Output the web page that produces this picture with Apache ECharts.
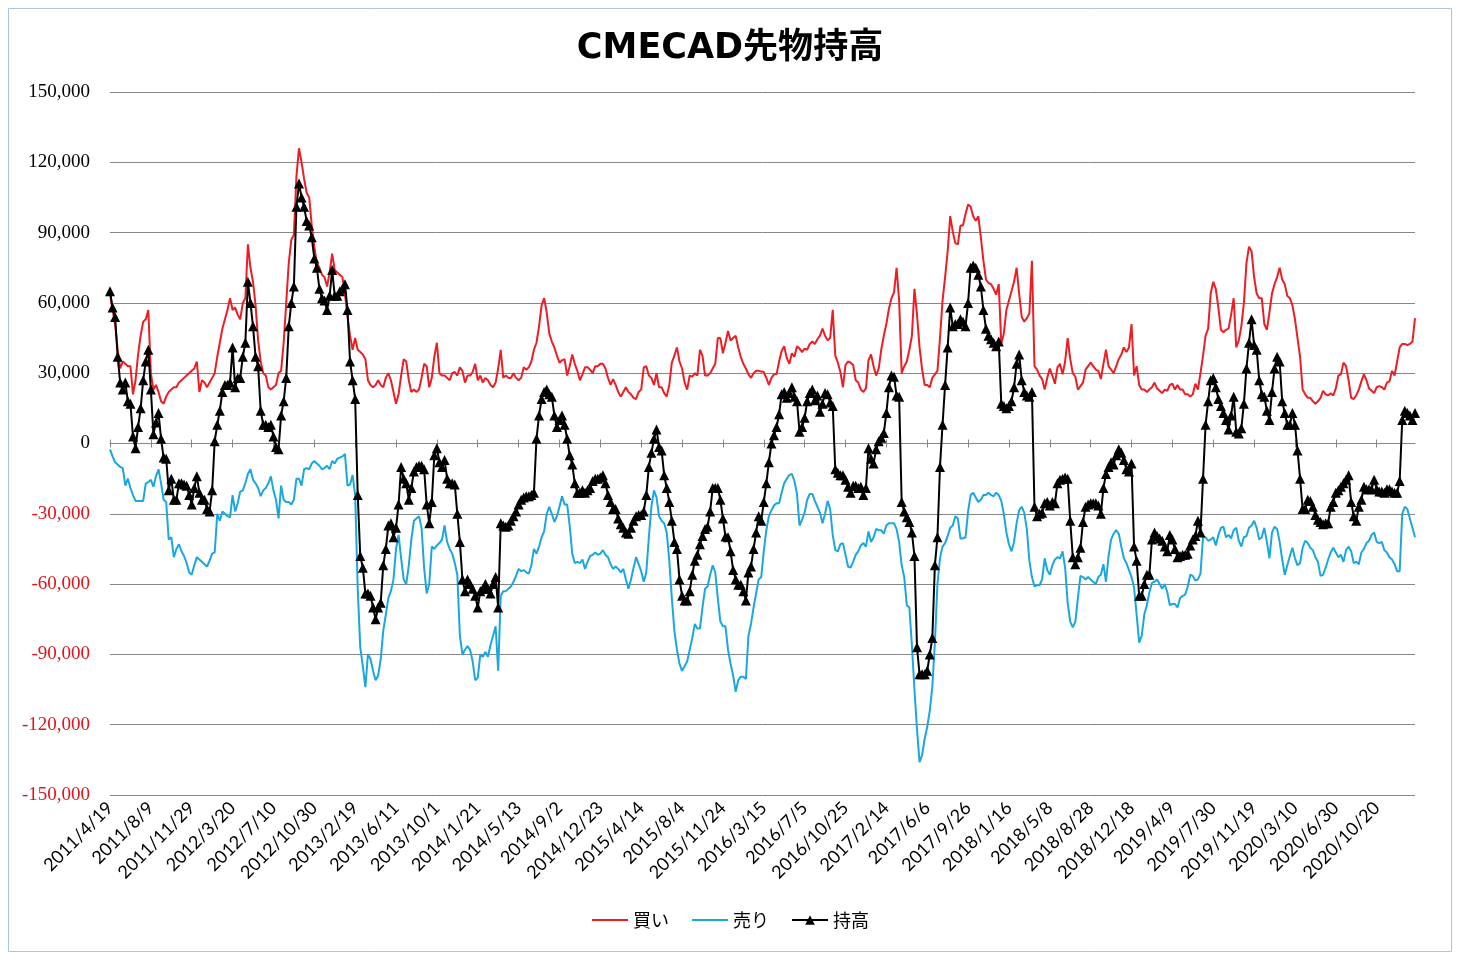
<!DOCTYPE html>
<html><head><meta charset="utf-8">
<script src="https://cdn.jsdelivr.net/npm/echarts@6/dist/echarts.min.js"></script>
<style>html,body{margin:0;padding:0;background:#fff}#c{width:1460px;height:960px}</style>
</head><body><div id="c"></div>
<script>
// 買い (long)
const buy = [
64000,57000,51000,40000,32000,35000,34000,33000,33000,21000,
27000,38000,46000,52000,53000,57000,30000,23000,25000,22000,
18000,17000,20000,22000,23000,24000,24000,26000,27000,28000,
29000,30000,31000,32000,35000,22000,27000,26000,24000,26000,
28000,30000,37000,43000,49000,53000,57000,62000,57000,58000,
55000,53000,60000,62000,85000,75000,69000,59000,44000,35000,
30000,
29000,24000,23000,24000,25000,30000,31000,43000,60000,77000,
87000,89000,114000,126000,120000,113000,107000,105000,93000,84000,
77000,75000,72000,71000,67000,73000,81000,74000,73000,72000,
71000,64000,54000,46000,40000,45000,40000,39000,38000,36000,
27000,25000,24000,25000,27000,25000,24000,28000,30000,27000,
22000,17000,21000,29000,36000,35000,27000,22000,23000,22000,
23000,28000,34000,33000,24000,
28000,37000,43000,30000,29000,29000,28000,27000,30000,30500,
29000,32500,31000,26000,29000,29000,30500,34000,27000,29000,
26000,28000,27000,25000,24000,26000,32000,40000,28000,29000,
28000,28000,30000,28000,27000,28000,32500,31500,32500,35000,
40000,43000,50000,59000,62000,56000,47000,43500,41000,37500,
34500,35500,36000,29000,33000,38000,34000,31000,27000,29500,
32500,32500,31500,30000,
33000,33000,34000,34000,32000,28000,25000,27500,25000,22000,
20000,22000,24000,22000,21000,19500,19000,22000,23000,32500,
33000,29000,28000,25000,30000,24000,24000,21500,20000,25000,
34500,37500,41000,35000,32000,26000,23000,29000,28500,30000,
29000,40000,37500,29000,29000,30000,32000,34000,45000,45000,
38500,43000,48000,44000,45000,46000,41000,37000,34000,32000,
29500,28000,30000,31000,31000,
30700,30500,28000,25000,28000,29500,29500,35000,39500,41500,
36500,34000,38500,37000,41500,40500,39000,40500,40000,42500,
43500,42500,44500,46000,49000,46000,44000,45000,57000,37500,
34500,30500,24000,33500,35000,34500,33500,27000,26000,23000,
22000,23500,35500,38000,33000,29000,32000,40000,46000,51000,
57500,62000,64500,75000,61000,30000,33000,35000,40000,46000,
66000,55000,41000,31500,25000,
25000,24000,28000,29500,31000,45000,61000,71000,82000,97000,
90500,85500,85000,93000,93000,98000,102000,101000,97000,95000,
97000,88000,78000,70000,68500,68000,66000,63500,68000,42500,
47000,57000,61000,65000,69000,75000,64000,54000,52000,53500,
55500,78000,33000,31500,29000,27500,23000,28000,32000,29000,
25500,32500,34000,29500,35000,45000,36000,30000,28500,23000,
24500,26000,31500,33000,
34500,33000,31500,31000,27500,34000,40000,33000,31500,30000,
33000,36000,38000,41000,39000,41000,51000,29000,33000,25000,
23000,23000,22000,23000,24000,26000,23500,22500,21500,23000,
22500,25000,25500,23000,25000,23000,23000,21000,21000,20000,
21000,25500,23000,30000,37500,46000,49000,64000,69000,66000,
58000,48500,47500,48500,49000,55000,62000,41000,44000,50000,
60000,77000,84000,82000,71000,
64000,62000,62000,51000,48500,56000,64000,68000,71000,75000,
70000,68000,63000,62000,59000,53000,45000,37000,23000,21000,
19500,19500,18000,17000,18000,19500,22500,21000,20500,21500,
20500,23500,29000,29500,34500,33000,27000,19500,19000,20500,
23000,26500,29500,27000,23500,22500,21500,24000,24500,24000,
23000,26000,26500,31000,29000,35000,41000,42500,42500,42000,
42500,43500,53500
];

// 売り (short)
const sell = [
-2500,-5500,-8000,-9000,-10000,-10500,-18000,-15000,-19000,-22000,
-24500,-24500,-24500,-24500,-17000,-16500,-15500,-18500,-14000,-11000,
-17000,-24000,-25000,-41000,-40000,-48500,-45000,-43000,-46000,-48000,
-51000,-55000,-56000,-52000,-48500,-49500,-50500,-51500,-52500,-50000,
-47000,-46500,-30000,-33000,-29000,-30000,-31000,-31500,-22000,-29000,
-25500,-20500,-20000,-17000,-13000,-11000,-15500,-17000,-19000,-22500,
-20000,
-19000,-17000,-14000,-20000,-24000,-32000,-18000,-24000,-25000,-25000,
-26000,-24000,-15000,-15000,-18000,-11000,-10500,-11000,-8500,-7500,
-8500,-9500,-11000,-10500,-9500,-11000,-7500,-8500,-6500,-6000,
-5500,-4500,-18000,-17500,-13500,-22000,-62000,-87000,-95000,-104000,
-90000,-92000,-97000,-101000,-99000,-92000,-80000,-73000,-66000,-63000,
-58000,-45000,-39000,-49000,-58000,-60000,-52000,-41000,-33000,-32000,
-31000,-36000,-53000,-64000,-60000,
-44000,-45000,-43500,-42500,-41000,-35000,-42000,-45000,-47000,-51000,
-56000,-82000,-90000,-88000,-86500,-88000,-93000,-101000,-100000,-90000,
-91000,-89000,-91000,-86000,-82000,-78000,-97000,-65000,-63000,-63000,
-62000,-61000,-59000,-56500,-53500,-54500,-54000,-55000,-55500,-52000,
-45000,-47000,-44000,-40000,-37500,-30000,-27000,-30000,-33500,-31000,
-27000,-22500,-26000,-26000,-35000,-47000,-51000,-50500,-51000,-49500,
-53500,-50500,-48000,-47500,
-46500,-47500,-47000,-45500,-47500,-48500,-51500,-53500,-52500,-53500,
-55000,-53500,-58000,-62000,-58000,-53000,-48500,-51500,-54500,-59000,
-55000,-40000,-27000,-20000,-23000,-31000,-33000,-34000,-38000,-50000,
-66000,-80000,-88000,-94000,-97000,-95000,-93000,-88000,-83000,-77000,
-79000,-79000,-70000,-62000,-61000,-56000,-52000,-55000,-66000,-76000,
-78000,-78000,-88000,-94000,-99000,-106000,-101000,-99500,-99500,-100500,
-82000,-77000,-70000,-64000,-58000,
-57000,-46000,-37000,-31000,-28500,-26500,-25500,-25500,-21000,-17000,
-15000,-13500,-13000,-16000,-21500,-35000,-32500,-29500,-24000,-21500,
-21500,-24500,-27000,-29500,-34000,-30000,-24500,-28000,-39000,-45500,
-46000,-43000,-42500,-47500,-52500,-53000,-50500,-47500,-46000,-43500,
-42500,-44000,-37500,-42000,-40000,-36500,-37000,-37000,-38500,-35000,
-34000,-34000,-34000,-36500,-42000,-52000,-57000,-69000,-70000,-86000,
-105000,-122000,-136000,-133000,-126000,
-121000,-114000,-104000,-85000,-60000,-49000,-44000,-42500,-39500,-36000,
-35000,-31000,-32000,-40500,-40500,-40000,-29000,-22000,-21000,-23000,
-25000,-24000,-22000,-22000,-21000,-22000,-22500,-21000,-22000,-24500,
-30000,-38000,-43000,-46000,-42000,-34000,-28500,-27000,-29500,-36500,
-50000,-57000,-61000,-60500,-60500,-58000,-49000,-54000,-56000,-52000,
-49500,-48500,-49000,-46000,-53000,-68000,-76000,-78500,-76000,-66000,
-56500,-57000,-58000,-57000,
-58000,-59000,-60000,-57000,-56000,-51500,-59000,-48000,-41000,-38500,
-37000,-38500,-44000,-49000,-51000,-54000,-57000,-61500,-73000,-85000,
-82000,-73000,-69000,-63500,-59500,-59000,-58000,-60000,-62000,-60000,
-63500,-69000,-68500,-68500,-70000,-66000,-65000,-64500,-61000,-56000,
-56500,-58500,-58000,-55500,-40000,-40000,-41500,-41000,-40000,-43500,
-39000,-36000,-35500,-40000,-39000,-40500,-37000,-36000,-41500,-44000,
-40000,-39500,-36000,-35000,-33000,
-36000,-41000,-40000,-36000,-42000,-49000,-38000,-35500,-36500,-42000,
-49500,-56000,-52000,-48000,-44500,-49000,-52000,-51000,-44500,-41500,
-42500,-44500,-45500,-48500,-50500,-56500,-56000,-53000,-49500,-46500,
-44500,-46500,-48500,-47500,-50500,-45500,-44000,-46000,-51000,-50500,
-51500,-46500,-45000,-42500,-41500,-39000,-38000,-42000,-42500,-42000,
-45500,-46500,-48500,-49500,-51500,-54500,-54500,-30000,-27000,-28000,
-32000,-36000,-40000
];

// 持高 (net)
const net = [
65000,58000,54000,37000,26000,23000,26000,18000,17000,3000,
-2000,7000,15000,27000,35000,40000,23000,4000,9000,13000,
2000,-6000,-6500,-20000,-15000,-24000,-24000,-17000,-17000,-17500,
-18000,-22000,-26000,-19000,-14000,-21000,-24000,-24000,-28000,-29000,
-20000,1000,8000,14000,22000,25000,25000,26000,41000,24000,
28000,28000,37000,43000,69000,60000,50000,37000,33000,14000,
8000,
8000,7000,8000,3000,-1500,-2500,12000,18000,28000,50000,
60000,67000,101000,111000,105000,101000,95000,93000,88000,79000,
75000,66000,62000,61000,57000,63000,74000,63000,63000,65000,
66000,68000,57000,35000,27000,19000,-22000,-48000,-53000,-64000,
-64000,-65000,-70000,-75000,-70000,-68000,-52000,-45000,-35000,-34000,
-40000,-36000,-26000,-10000,-15000,-17000,-24000,-19000,-12000,-10000,
-9500,-9500,-11000,-26000,-34000,
-25000,-5000,-2000,-8000,-10000,-7000,-15000,-17000,-17000,-17500,
-30000,-42000,-58000,-63000,-58000,-60000,-62000,-65000,-70000,-63000,
-62000,-60000,-62000,-64000,-60000,-57000,-70000,-34000,-35000,-35500,
-35000,-33000,-31000,-29000,-26000,-24000,-23000,-22500,-22500,-22000,
-21000,2000,12000,19000,22000,23000,21000,20000,12000,7000,
10000,12000,8000,2000,-5000,-9000,-17000,-21000,-21000,-20000,
-21000,-20000,-19000,-16000,
-15000,-15000,-14500,-13500,-17000,-22000,-25000,-28000,-28000,-32000,
-34500,-36000,-38000,-38500,-36000,-33000,-31000,-30500,-30500,-29000,
-22000,-10000,-4000,2000,6000,-1500,-3000,-13500,-19000,-25000,
-33000,-42000,-45000,-58000,-65000,-67000,-67000,-63000,-56000,-50000,
-47500,-43000,-39500,-36500,-35500,-29000,-19000,-19000,-19000,-24000,
-32000,-39700,-40000,-46000,-54000,-58000,-60300,-60300,-63000,-67000,
-55000,-52500,-45000,-38000,-31000,
-33000,-25000,-17000,-8000,0,3500,7000,12500,21000,22000,
19500,21500,24000,20000,18000,5000,7000,11000,18000,21500,
23000,18500,20500,13500,17000,21500,21000,17500,16000,-11000,
-12500,-13500,-13500,-15500,-18500,-21000,-18000,-18000,-19000,-18500,
-22000,-19000,-2000,-6500,-8500,-2500,1000,2500,4500,13000,
24000,29000,28500,20500,20000,-25000,-29000,-31500,-33500,-38000,
-48000,-87000,-98500,-98500,-98500,
-97000,-90000,-83000,-52000,-40000,-10000,8000,25000,41000,58000,
50000,51000,51000,53000,52000,50000,60000,75000,76000,75000,
72000,67000,57000,49000,46000,44500,43000,41500,43500,17000,
16000,15000,16000,18000,24000,34000,38000,27000,22000,20500,
20000,22000,-27000,-31000,-30000,-29500,-25500,-25000,-26500,-25000,
-25500,-17000,-15500,-15000,-14500,-15000,-33000,-48500,-51500,-48500,
-44500,-33500,-27000,-26000,
-25500,-25500,-25500,-26500,-30000,-19000,-13000,-10000,-8000,-9000,
-5000,-2500,-4000,-7000,-11000,-12000,-8500,-44000,-50000,-65000,
-65000,-60000,-56000,-56000,-41000,-38000,-39500,-40500,-41500,-44000,
-46000,-39000,-41000,-45000,-48500,-48000,-47500,-47500,-47000,-43500,
-41000,-39500,-33000,-38000,-15000,8000,18000,27000,28000,24000,
19000,16000,13000,10000,6000,12000,20000,5000,4300,6500,
17000,32000,43000,53000,42000,
40000,27000,21000,20000,14000,10000,22000,32000,37000,35000,
18000,13000,8000,8000,13000,8000,-3000,-15000,-28000,-28000,
-24000,-24500,-27000,-30500,-32500,-33500,-34500,-34000,-34000,-27000,
-25000,-21000,-20000,-18500,-17000,-15500,-13500,-25000,-31000,-33000,
-27000,-24000,-18500,-19500,-19500,-19500,-15500,-19500,-20500,-20500,
-21000,-19500,-19500,-20500,-21000,-21000,-16000,10000,14000,13000,
12000,10000,13000
];

// x-axis tick labels (every 16 weeks)
const tickLabels = ['2011/4/19','2011/8/9','2011/11/29','2012/3/20','2012/7/10','2012/10/30','2013/2/19','2013/6/11','2013/10/1','2014/1/21','2014/5/13','2014/9/2','2014/12/23','2015/4/14','2015/8/4','2015/11/24','2016/3/15','2016/7/5','2016/10/25','2017/2/14','2017/6/6','2017/9/26','2018/1/16','2018/5/8','2018/8/28','2018/12/18','2019/4/9','2019/7/30','2019/11/19','2020/3/10','2020/6/30','2020/10/20'];

// weekly categories starting 2011/4/19
const categories = [];
for (let k = 0; k < net.length; k++) {
  const d = new Date(Date.UTC(2011, 3, 19 + 7 * k));
  categories.push(d.getUTCFullYear() + '/' + (d.getUTCMonth() + 1) + '/' + d.getUTCDate());
}
const tickSet = new Set(tickLabels);
const showTick = (idx, val) => tickSet.has(val);

const RED = '#ee1d23', BLUE = '#1aa7e0';
const chart = echarts.init(document.getElementById('c'));
const axisGray = '#868686';
chart.setOption({
  animation: false,
  backgroundColor: '#fff',
  graphic: [{
    type: 'rect', shape: { x: 8.5, y: 8.5, width: 1443, height: 943 },
    style: { fill: 'none', stroke: '#a9c6de', lineWidth: 1 }, silent: true
  }],
  title: {
    text: 'CMECAD先物持高', left: 'center', top: 26,
    textStyle: { fontSize: 35, fontWeight: 'bold', color: '#000', fontFamily: '"DejaVu Sans","Noto Sans CJK JP"' }
  },
  legend: {
    data: [
      { name: '買い', itemStyle: { opacity: 0 }, lineStyle: { color: RED, width: 2 } },
      { name: '売り', itemStyle: { opacity: 0 }, lineStyle: { color: BLUE, width: 2 } },
      { name: '持高' }
    ],
    left: 'center', top: 906,
    itemWidth: 36, itemHeight: 12, itemGap: 22,
    textStyle: { fontSize: 18, color: '#000', fontFamily: '"Noto Sans CJK JP"' }
  },
  grid: { left: 110, right: 45, top: 92, bottom: 165 },
  xAxis: [
    {
      type: 'category', data: categories, boundaryGap: false, position: 'bottom',
      axisLine: { show: false, onZero: false }, axisTick: { show: false },
      axisLabel: { interval: showTick, rotate: 45, fontSize: 18, color: '#000', fontFamily: 'Lato', margin: 10 },
      splitLine: { show: false }
    },
    {
      type: 'category', data: categories, boundaryGap: false, position: 'bottom',
      axisLine: { show: true, onZero: true, onZeroAxisIndex: 0, lineStyle: { color: axisGray, width: 1 } },
      axisTick: { show: true, interval: showTick, length: 4, lineStyle: { color: axisGray } },
      axisLabel: { show: false }, splitLine: { show: false }
    },
    {
      type: 'category', data: categories, boundaryGap: false, position: 'top',
      axisLine: { show: false, onZero: true, onZeroAxisIndex: 0 },
      axisTick: { show: true, interval: showTick, length: 4, lineStyle: { color: axisGray } },
      axisLabel: { show: false }, splitLine: { show: false }
    }
  ],
  yAxis: {
    type: 'value', min: -150000, max: 150000, interval: 30000,
    axisLine: { show: false }, axisTick: { show: false },
    splitLine: { lineStyle: { color: axisGray, width: 1 } },
    axisLabel: {
      margin: 20,
      formatter: v => {
        const s = Math.abs(v).toLocaleString('en-US');
        return v < 0 ? '{n|-' + s + '}' : '{p|' + s + '}';
      },
      rich: {
        p: { color: '#000', fontSize: 19, fontFamily: '"Liberation Serif"' },
        n: { color: '#e0141a', fontSize: 19, fontFamily: '"Liberation Serif"' }
      }
    }
  },
  series: [
    { name: '買い', type: 'line', data: buy, symbol: 'none', lineStyle: { color: RED, width: 2 }, itemStyle: { color: RED }, z: 2 },
    { name: '売り', type: 'line', data: sell, symbol: 'none', lineStyle: { color: BLUE, width: 2 }, itemStyle: { color: BLUE }, z: 3 },
    { name: '持高', type: 'line', data: net, symbol: 'triangle', symbolSize: 10, showAllSymbol: true,
      lineStyle: { color: '#000', width: 2 }, itemStyle: { color: '#000' }, z: 4 }
  ]
});
</script>
</body></html>
